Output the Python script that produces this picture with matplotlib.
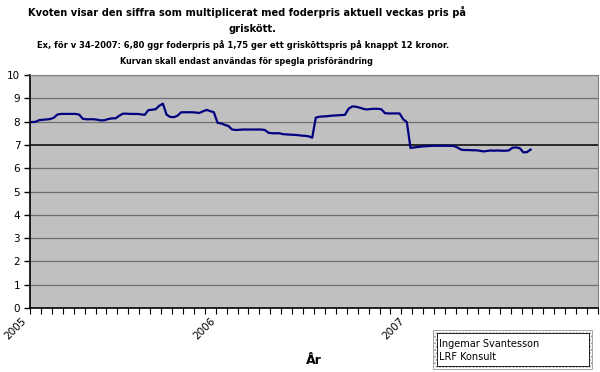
"""
Kvot foderpris / griskött, veckodata 2005 v1 - 2007 v34
"""

import numpy as np
import matplotlib
matplotlib.use('Agg')
import matplotlib.pyplot as plt
from matplotlib.patches import Rectangle

# veckovärden (kvot), 2005 v1 .. 2007 v34
kvot_2005 = [7.98, 7.99, 8.06, 8.08, 8.09, 8.11, 8.16, 8.30, 8.33, 8.33,
             8.33, 8.33, 8.33, 8.30, 8.12, 8.10, 8.10, 8.10, 8.08, 8.05,
             8.06, 8.11, 8.14, 8.14, 8.25, 8.34, 8.34, 8.33, 8.33, 8.33,
             8.31, 8.29, 8.49, 8.51, 8.53, 8.68, 8.77, 8.30, 8.20, 8.19,
             8.25, 8.40, 8.40, 8.40, 8.40, 8.39, 8.37, 8.44, 8.50, 8.45,
             8.40, 7.95]
kvot_2006 = [7.92, 7.86, 7.81, 7.66, 7.64, 7.65, 7.66, 7.66, 7.66, 7.66,
             7.66, 7.66, 7.64, 7.52, 7.50, 7.50, 7.50, 7.46, 7.45, 7.44,
             7.43, 7.42, 7.40, 7.39, 7.37, 7.31, 8.17, 8.21, 8.22, 8.23,
             8.25, 8.26, 8.27, 8.28, 8.29, 8.55, 8.65, 8.64, 8.60, 8.55,
             8.52, 8.54, 8.55, 8.55, 8.53, 8.36, 8.35, 8.35, 8.35, 8.35,
             8.10, 7.98]
kvot_2007 = [6.87, 6.89, 6.91, 6.93, 6.94, 6.95, 6.96, 6.96, 6.96, 6.96,
             6.96, 6.96, 6.95, 6.88, 6.79, 6.78, 6.78, 6.77, 6.77, 6.75,
             6.72, 6.74, 6.76, 6.75, 6.76, 6.75, 6.75, 6.76, 6.88, 6.89,
             6.86, 6.68, 6.69, 6.80]

years = ['2005', '2006', '2007']
weeks_per_year = 52
y_ticks = [0, 1, 2, 3, 4, 5, 6, 7, 8, 9, 10]

title_1 = 'Kvoten visar den siffra som multiplicerat med foderpris aktuell veckas pris på'
title_2 = 'griskött.'
title_3 = 'Ex, för v 34-2007: 6,80 ggr foderpris på 1,75 ger ett griskõttspris på knappt 12 kronor.'
title_4 = 'Kurvan skall endast användas för spegla prisförändring'


def px(x, y):
    """pixel -> figure fraction"""
    return x / 600., 1. - y / 372.


def main():
    """
    Docstring
    """
    kvot = np.array(kvot_2005 + kvot_2006 + kvot_2007)
    weeks = np.arange(len(kvot))
    n_cat = weeks_per_year * len(years)

    fig = plt.figure(figsize=(6.0, 3.72), dpi=100)
    fig.patch.set_facecolor('white')

    ax = fig.add_axes([30 / 600., 64 / 372., 568 / 600., 233 / 372.])
    ax.set_facecolor('#c0c0c0')

    for val in y_ticks[1:]:
        if val == 7:
            ax.axhline(val, color='black', lw=1.1, zorder=1)
        else:
            ax.axhline(val, color='#6e6e6e', lw=0.9, zorder=1)

    ax.plot(weeks, kvot, color='#000080', lw=1.6, zorder=3)

    ax.set_xlim(-0.5, n_cat - 0.5)
    ax.set_ylim(0, 10)

    for side in ['top', 'right']:
        ax.spines[side].set_color('#808080')
        ax.spines[side].set_linewidth(0.8)
    for side in ['left', 'bottom']:
        ax.spines[side].set_color('black')
        ax.spines[side].set_linewidth(1.2)

    ax.set_yticks(y_ticks)
    ax.set_yticklabels([str(v) for v in y_ticks])
    ax.tick_params(axis='y', direction='out', length=4, width=1, pad=3,
                   labelsize=7.5, colors='black')

    ax.set_xticks(np.arange(-0.5, n_cat, 3))
    ax.set_xticklabels([])
    ax.tick_params(axis='x', direction='out', length=4, width=0.8)
    for k, year in enumerate(years):
        ax.text(k * weeks_per_year - 3.0, -0.35, year, rotation=45,
                ha='right', va='top', rotation_mode='anchor',
                fontsize=7.5, transform=ax.transData)

    fig.text(*px(314, 360), 'År', ha='center', va='center',
             fontsize=9, fontweight='bold')

    fig.text(*px(247, 12), title_1, ha='center', va='center',
             fontsize=7.1, fontweight='bold')
    fig.text(*px(252, 29), title_2, ha='center', va='center',
             fontsize=7.1, fontweight='bold')
    fig.text(*px(243, 45), title_3, ha='center', va='center',
             fontsize=6.0, fontweight='bold')
    fig.text(*px(246, 62), title_4, ha='center', va='center',
             fontsize=5.8, fontweight='bold')

    # markerad textruta
    outer = Rectangle(px(433, 369), 159 / 600., 39 / 372.,
                      transform=fig.transFigure, facecolor='white',
                      edgecolor='#999999', hatch='.....', lw=0.6)
    inner = Rectangle(px(437, 366), 152 / 600., 33 / 372.,
                      transform=fig.transFigure, facecolor='white',
                      edgecolor='black', lw=0.6)
    fig.patches.extend([outer, inner])
    fig.text(*px(439, 344), 'Ingemar Svantesson', ha='left', va='center',
             fontsize=7)
    fig.text(*px(439, 357), 'LRF Konsult', ha='left', va='center',
             fontsize=7)

    fig.savefig('out.png', dpi=100)


if __name__ == "__main__":
    main()
